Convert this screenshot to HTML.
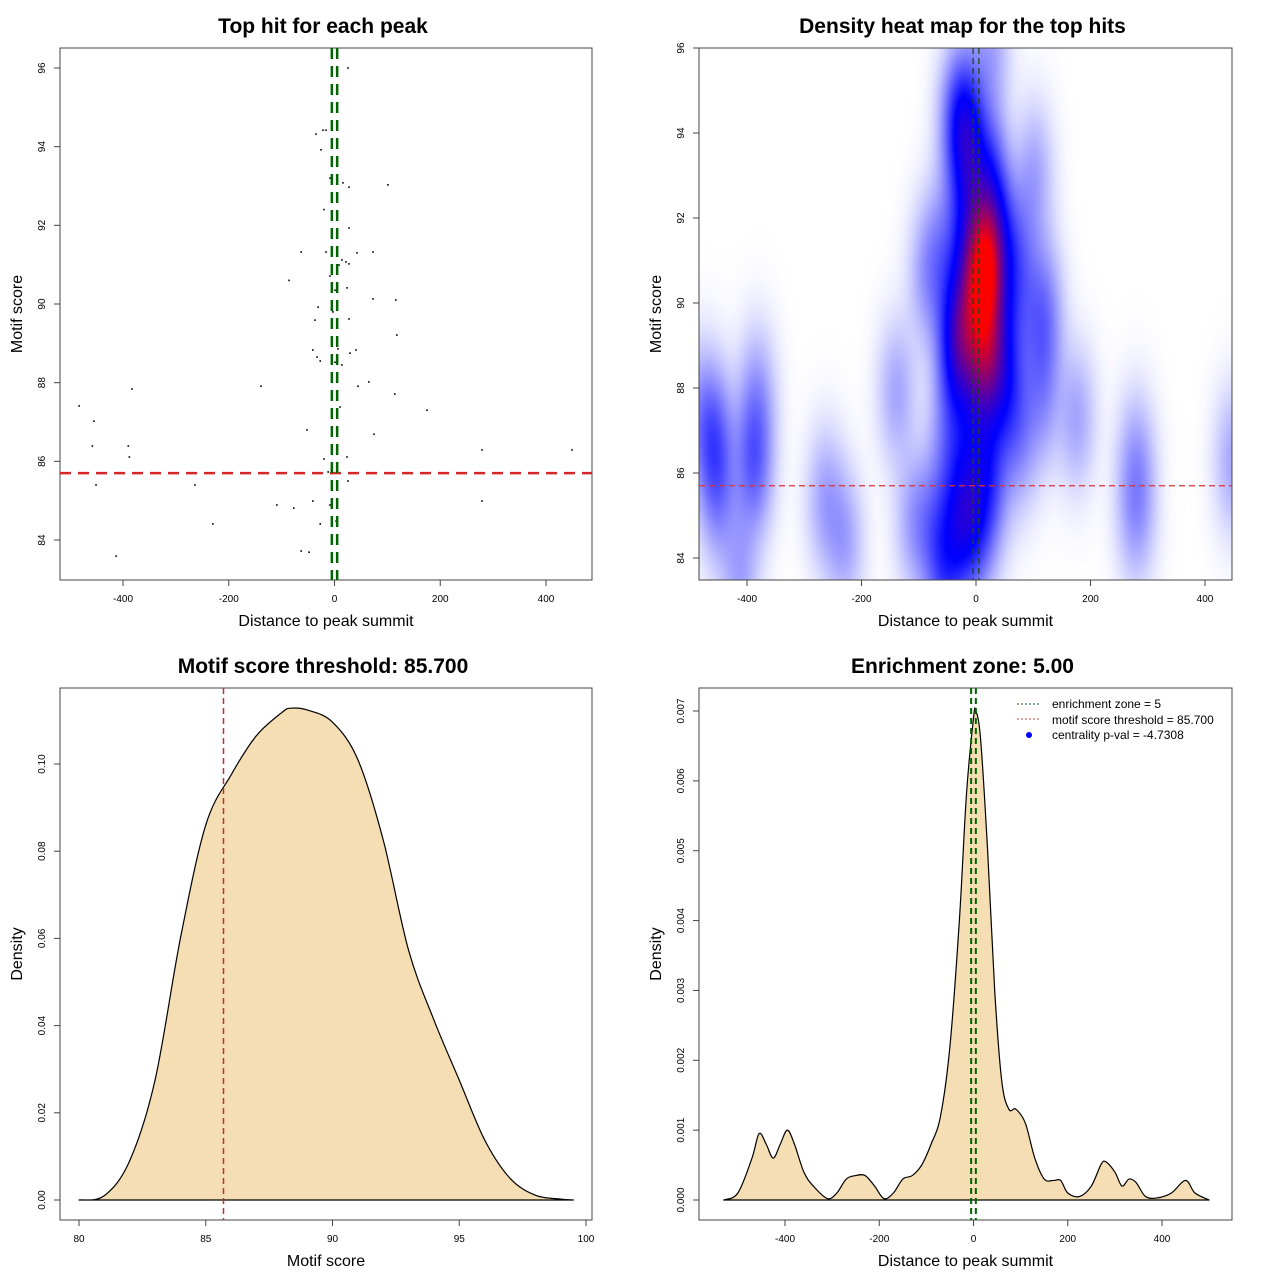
<!DOCTYPE html>
<html><head><meta charset="utf-8"><style>
body{margin:0;background:#fff;width:1280px;height:1280px;overflow:hidden;position:relative;font-family:"Liberation Sans",sans-serif}
#hm{position:absolute;left:699px;top:48px}
svg{position:absolute;left:0;top:0}
</style></head><body>
<canvas id="hm" width="533" height="532"></canvas>
<svg id="s" width="1280" height="1280"></svg>
<script>
// ---- data ----
const scatterX=[25.5,-21.7,-16,-35,-25.5,-8.5,16,27.4,101,-20,27.4,-63,-16,42.5,72.8,14,21.7,27.4,8.5,-86,-8.5,1,23.6,72.8,116,-31,-37,-3,27.4,118,-41,6.6,29.3,40.6,-33,-27,1,14,44.4,65,114,-139,-383,-483,-455,10.4,175,-52,74.7,-458,-390,-388,279,449,23.6,-20,-12,-451,-264,25.5,279,-41,-109,-77,-8.5,-230,-27,3,-48,-413,-63];
const scatterY=[96.0,94.42,94.42,94.32,93.92,93.2,93.08,92.97,93.03,92.4,91.93,91.32,91.32,91.3,91.32,91.12,91.07,91.02,90.99,90.6,90.71,90.35,90.41,90.13,90.1,89.92,89.59,89.8,89.62,89.21,88.83,88.86,88.75,88.83,88.65,88.55,88.52,88.45,87.91,88.02,87.71,87.91,87.84,87.41,87.02,87.38,87.30,86.80,86.69,86.39,86.39,86.11,86.29,86.29,86.11,86.06,85.73,85.40,85.40,85.50,84.99,84.99,84.89,84.81,84.89,84.41,84.41,84.48,83.69,83.59,83.72];
const threshold=85.7;
const zone=5;
const scoreX=[80,81,82,83,84,85,86,87,88,88.35,89,90,91,92,93,94,95,96,97,98,99,99.5];
const scoreD=[0,0.001,0.009,0.0275,0.06,0.086,0.0975,0.1065,0.1118,0.1128,0.1124,0.1096,0.101,0.0826,0.0573,0.0413,0.0275,0.0138,0.005,0.0011,0.0002,0];
const distX=[-530,-500,-470,-455,-440,-425,-410,-395,-380,-360,-340,-310,-290,-270,-250,-230,-210,-190,-170,-150,-130,-110,-90,-70,-50,-30,-15,0,5,15,30,45,60,75,90,110,130,150,170,185,200,225,250,270,280,300,315,330,345,365,390,420,450,470,500];
const distD=[0,0.0001,0.0006,0.00095,0.0008,0.0006,0.0008,0.001,0.0008,0.0004,0.0002,0.00002,0.0001,0.0003,0.00035,0.00035,0.0002,0.00002,0.0001,0.0003,0.00035,0.0005,0.0008,0.0012,0.0022,0.004,0.0058,0.0069,0.007,0.0066,0.005,0.003,0.0017,0.0013,0.0013,0.0011,0.0006,0.0003,0.00028,0.00028,0.0001,0.00005,0.0002,0.0005,0.00055,0.0004,0.0002,0.0003,0.00025,0.00005,0.00003,0.0001,0.00028,0.0001,0];
const ticksXdist=[-400,-200,0,200,400];
const ticksYscore=[84,86,88,90,92,94,96];
const ticksXscore=[80,85,90,95,100];
const ticksYdens=[0,0.02,0.04,0.06,0.08,0.10];
const ticksYdist=[0,0.001,0.002,0.003,0.004,0.005,0.006,0.007];

const S=document.getElementById('s');
const NS='http://www.w3.org/2000/svg';
function mk(tag,attrs,name,txt){const e=document.createElementNS(NS,tag);for(const k in attrs)e.setAttribute(k,attrs[k]);


if(txt!==undefined)e.textContent=txt;S.appendChild(e);return e;}
function lin(d0,d1,p0,p1){return v=>p0+(v-d0)*(p1-p0)/(d1-d0);}
function smooth(pts){let d=`M${pts[0][0]},${pts[0][1]}`;
 for(let i=0;i<pts.length-1;i++){const p0=pts[Math.max(0,i-1)],p1=pts[i],p2=pts[i+1],p3=pts[Math.min(pts.length-1,i+2)];
  const c1=[p1[0]+(p2[0]-p0[0])/6,p1[1]+(p2[1]-p0[1])/6],c2=[p2[0]-(p3[0]-p1[0])/6,p2[1]-(p3[1]-p1[1])/6];
  d+=` C${c1[0]},${c1[1]} ${c2[0]},${c2[1]} ${p2[0]},${p2[1]}`;}
 return d;}

function panel(box,title,xl,yl,sx,sy,xt,yt,fmtX,fmtY,pfx){
  mk('rect',{x:box[0],y:box[1],width:box[2]-box[0],height:box[3]-box[1],fill:'none',stroke:'#444','stroke-width':1},pfx+'-plot-frame');
  mk('text',{x:(box[0]+box[2])/2-3,y:box[1]-15,'text-anchor':'middle','font-size':21,'font-weight':'bold'},pfx+'-title',title);
  mk('text',{x:(box[0]+box[2])/2,y:box[3]+46,'text-anchor':'middle','font-size':16},pfx+'-x-axis-title',xl);
  const cy=(box[1]+box[3])/2, tx=box[0]-43;
  mk('text',{x:tx,y:cy+5,'text-anchor':'middle','font-size':16,transform:`rotate(-90 ${tx} ${cy})`},pfx+'-y-axis-title',yl);
  xt.forEach(t=>{const x=sx(t);
    mk('line',{x1:x,x2:x,y1:box[3],y2:box[3]+6,stroke:'#444'},pfx+'-x-tick');
    mk('text',{x:x,y:box[3]+22,'text-anchor':'middle','font-size':10},pfx+'-x-tick-label',fmtX(t));});
  yt.forEach(t=>{const y=sy(t);
    mk('line',{x1:box[0]-6,x2:box[0],y1:y,y2:y,stroke:'#444'},pfx+'-y-tick');
    mk('text',{x:box[0]-15,y:y,'text-anchor':'middle','font-size':10,transform:`rotate(-90 ${box[0]-15} ${y})`},pfx+'-y-tick-label',fmtY(t));});
}
const id=v=>String(v);

// Panel 1 scatter
{const b=[60,48,592,580];const sx=lin(-400,400,123,546),sy=lin(84,96,540,68);
panel(b,'Top hit for each peak','Distance to peak summit','Motif score',sx,sy,ticksXdist,ticksYscore,id,id,'scatter');
scatterX.forEach((x,i)=>mk('rect',{x:sx(x)-0.8,y:sy(scatterY[i])-0.8,width:1.6,height:1.6,fill:'#000'},'scatter-point'));
mk('line',{x1:b[0],x2:b[2],y1:sy(threshold),y2:sy(threshold),stroke:'#d62728','stroke-width':2.5,'stroke-dasharray':'11 7'},'threshold-line');
[-zone,zone].forEach(z=>mk('line',{x1:sx(z),x2:sx(z),y1:b[1],y2:b[3],stroke:'#006400','stroke-width':2.5,'stroke-dasharray':'11 7'},'enrichment-zone-line'));}

// Panel 2 heatmap
{const b=[699,48,1232,580];const sx=lin(-400,400,747,1205),sy=lin(84,96,558,48);
const c=document.getElementById('hm').getContext('2d');const W=533,H=532;const img=c.createImageData(W,H);
const hx=22,hy=1.1;const dens=new Float32Array(W*H);let mx=0;
for(let j=0;j<H;j++){const yv=84+(558-(48+j))/((558-48)/12);
 for(let i=0;i<W;i++){const xv=(699+i-976)/0.5725;let s=0;
  for(let k=0;k<scatterX.length;k++){const dx=(xv-scatterX[k])/hx,dy=(yv-scatterY[k])/hy;const q=dx*dx+dy*dy;if(q<20)s+=Math.exp(-0.5*q);}
  dens[j*W+i]=s;if(s>mx)mx=s;}}
for(let p=0;p<W*H;p++){const t=dens[p]/mx;let r,g,bb;
 if(t<0.4){const s=Math.pow(t/0.4,0.8);r=255*(1-s);g=255*(1-s);bb=255;}else{const s=Math.min(1,Math.pow((t-0.4)/0.5,1.3));r=255*s;g=0;bb=255*(1-s);}
 img.data[p*4]=r;img.data[p*4+1]=g;img.data[p*4+2]=bb;img.data[p*4+3]=255;}
c.putImageData(img,0,0);
panel(b,'Density heat map for the top hits','Distance to peak summit','Motif score',sx,sy,ticksXdist,ticksYscore,id,id,'heatmap');
mk('line',{x1:b[0],x2:b[2],y1:sy(threshold),y2:sy(threshold),stroke:'#e03030','stroke-width':1.2,'stroke-dasharray':'6 4'},'heatmap-threshold-line');
[-zone,zone].forEach(z=>mk('line',{x1:sx(z),x2:sx(z),y1:b[1],y2:b[3],stroke:'#1a4a1a','stroke-width':1.3,'stroke-dasharray':'6 4'},'heatmap-zone-line'));}

// Panel 3 score density
{const b=[60,688,592,1220];const sx=lin(80,100,79,586),sy=lin(0,0.1,1200,764);
panel(b,'Motif score threshold: 85.700','Motif score','Density',sx,sy,ticksXscore,ticksYdens,id,v=>v.toFixed(2),'score-density');
const pts=scoreX.map((x,i)=>[sx(x),sy(scoreD[i])]);
mk('path',{d:smooth(pts)+'Z',fill:'#f5deb3',stroke:'#000','stroke-width':1.2,'stroke-linejoin':'round'},'score-density-curve');
mk('line',{x1:b[0]+20,x2:b[2]-20,y1:sy(0),y2:sy(0),stroke:'#000','stroke-width':1},'score-density-baseline');
mk('line',{x1:sx(threshold),x2:sx(threshold),y1:b[1],y2:b[3],stroke:'#c0302a','stroke-width':1.5,'stroke-dasharray':'6 4'},'score-threshold-line');}

// Panel 4 distance density
{const b=[699,688,1232,1220];const sx=lin(-400,400,785,1162),sy=lin(0,0.007,1200,711);
panel(b,'Enrichment zone: 5.00','Distance to peak summit','Density',sx,sy,ticksXdist,ticksYdist,id,v=>v.toFixed(3),'distance-density');
const pts=distX.map((x,i)=>[sx(x),sy(distD[i])]);
mk('path',{d:smooth(pts)+'Z',fill:'#f5deb3',stroke:'#000','stroke-width':1.2,'stroke-linejoin':'round'},'distance-density-curve');
[-zone,zone].forEach(z=>mk('line',{x1:sx(z),x2:sx(z),y1:b[1],y2:b[3],stroke:'#006400','stroke-width':2,'stroke-dasharray':'6 4'},'distance-zone-line'));
mk('line',{x1:1017,x2:1041,y1:704,y2:704,stroke:'#006400','stroke-dasharray':'2 2'},'legend-zone-swatch');
mk('text',{x:1052,y:708,'font-size':12},'legend-zone-label','enrichment zone = 5');
mk('line',{x1:1017,x2:1041,y1:719,y2:719,stroke:'#e04040','stroke-dasharray':'2 2'},'legend-threshold-swatch');
mk('text',{x:1052,y:724,'font-size':12},'legend-threshold-label','motif score threshold = 85.700');
mk('circle',{cx:1029,cy:735,r:3,fill:'#0000ff'},'legend-pval-swatch');
mk('text',{x:1052,y:739,'font-size':12},'legend-pval-label','centrality p-val = -4.7308');}
</script>
</body></html>
